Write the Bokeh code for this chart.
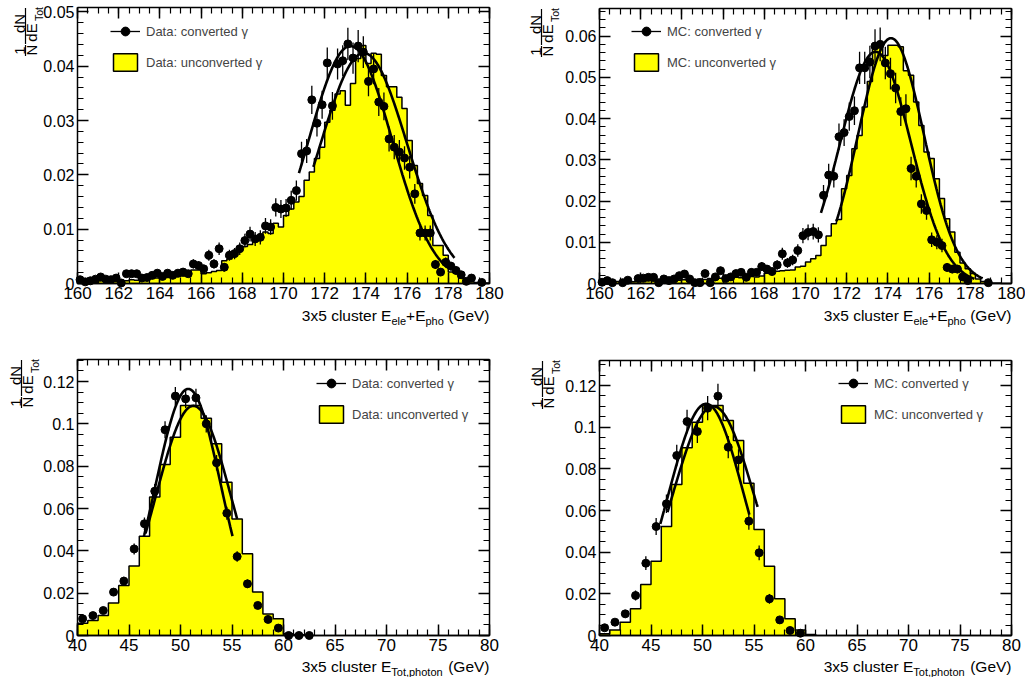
import numpy as np
from bokeh.plotting import figure
from bokeh.layouts import gridplot
from bokeh.models import (Range1d, LinearAxis, SingleIntervalTicker, PrintfTickFormatter,
                          CustomJSTickFormatter, Label, Legend, LegendItem, BoxAnnotation)
from bokeh.embed import file_html
from bokeh.resources import INLINE

FONT = "Liberation Sans"

# ---------------- data ----------------
# top row: 3x5 cluster E_ele+E_pho, 80 bins of 0.25 GeV from 160 GeV
top_lo, top_bw = 160.0, 0.25
# bottom row: 3x5 cluster E_Tot,photon, 40 bins of 1 GeV from 40 GeV
bot_lo, bot_bw = 40.0, 1.0

data_conv_total = [
    0.0007, 0.0003, 0.0005, 0.0008, 0.0012, 0.0008, 0.0007, 0.0010, 0.0001, 0.0018,
    0.0018, 0.0018, 0.0010, 0.0011, 0.0015, 0.0019, 0.0013, 0.0019, 0.0015, 0.0019,
    0.0021, 0.0018, 0.0036, 0.0033, 0.0027, 0.0052, 0.0036, 0.0064, 0.0030, 0.0052,
    0.0055, 0.0064, 0.0079, 0.0091, 0.0082, 0.0085, 0.0106, 0.0104, 0.0140, 0.0137,
    0.0139, 0.0153, 0.0171, 0.0239, 0.0244, 0.0338, 0.0295, 0.0329, 0.0406, 0.0327,
    0.0404, 0.0410, 0.0441, 0.0415, 0.0437, 0.0426, 0.0372, 0.0395, 0.0334, 0.0326,
    0.0266, 0.0251, 0.0242, 0.0231, 0.0214, 0.0165, 0.0093, 0.0093, 0.0093, 0.0035,
    0.0021, 0.0039, 0.0032, 0.0024, 0.0016, 0.0004, 0.0010, None, 0.0002, None]
data_unconv_total = [
    0.0003, 0.0004, 0.0003, 0.0005, 0.0005, 0.0004, 0.0006, 0.0005, 0.0006, 0.0005,
    0.0007, 0.0006, 0.0008, 0.0007, 0.0009, 0.0010, 0.0009, 0.0011, 0.0012, 0.0013,
    0.0014, 0.0016, 0.0025, 0.0025, 0.0018, 0.0020, 0.0022, 0.0024, 0.0042, 0.0045,
    0.0052, 0.0061, 0.0068, 0.0072, 0.0080, 0.0085, 0.0095, 0.0092, 0.0111, 0.0104,
    0.0125, 0.0137, 0.0150, 0.0160, 0.0190, 0.0205, 0.0230, 0.0251, 0.0297, 0.0319,
    0.0349, 0.0355, 0.0328, 0.0368, 0.0414, 0.0438, 0.0405, 0.0424, 0.0422, 0.0383,
    0.0362, 0.0362, 0.0343, 0.0322, 0.0263, 0.0217, 0.0184, 0.0162, 0.0125, 0.0070,
    0.0070, 0.0052, 0.0021, 0.0019, 0.0010, 0.0007, 0.0003, 0.0002, 0.0001, 0.0001]
mc_conv_total = [
    0.0003, 0.0007, 0.0002, None, 0.0002, 0.0008, None, 0.0012, 0.0013, 0.0015,
    0.0015, 0.0002, 0.0011, 0.0007, 0.0011, 0.0019, 0.0023, 0.0011, 0.0002, 0.0002,
    0.0024, 0.0002, 0.0016, 0.0031, 0.0012, 0.0016, 0.0024, 0.0027, 0.0015, 0.0027,
    0.0027, 0.0041, 0.0035, 0.0029, 0.0045, 0.0072, 0.0050, 0.0057, 0.0080, 0.0116,
    0.0124, 0.0126, 0.0118, 0.0214, 0.0263, 0.0260, 0.0356, 0.0366, 0.0405, 0.0419,
    0.0523, 0.0523, 0.0537, 0.0576, 0.0580, 0.0535, 0.0509, 0.0474, 0.0417, 0.0424,
    0.0279, 0.0260, 0.0193, 0.0177, 0.0106, 0.0100, 0.0092, 0.0039, 0.0035, 0.0035,
    0.0016, 0.0007, None, None, None, 0.0002, None, None, None, None]
mc_unconv_total = [
    0.0003, 0.0004, 0.0003, 0.0005, 0.0004, 0.0005, 0.0004, 0.0006, 0.0005, 0.0007,
    0.0006, 0.0007, 0.0008, 0.0007, 0.0009, 0.0008, 0.0009, 0.0010, 0.0009, 0.0011,
    0.0010, 0.0012, 0.0011, 0.0013, 0.0012, 0.0014, 0.0015, 0.0014, 0.0016, 0.0017,
    0.0016, 0.0018, 0.0025, 0.0026, 0.0030, 0.0031, 0.0032, 0.0033, 0.0040, 0.0042,
    0.0052, 0.0060, 0.0068, 0.0092, 0.0115, 0.0145, 0.0155, 0.0230, 0.0262, 0.0327,
    0.0359, 0.0428, 0.0490, 0.0574, 0.0574, 0.0553, 0.0578, 0.0578, 0.0574, 0.0516,
    0.0505, 0.0440, 0.0383, 0.0319, 0.0303, 0.0254, 0.0206, 0.0157, 0.0125, 0.0076,
    0.0050, 0.0036, 0.0024, 0.0011, 0.0005, 0.0002, 0.0001, 0.0001, 0.0, 0.0]

data_conv_photon = [
    0.0079, 0.0094, 0.0118, 0.0205, 0.0257, 0.0409, 0.0528, 0.0682, 0.0972, 0.1131,
    0.1118, 0.1123, 0.1000, 0.0816, 0.0578, 0.0373, 0.0244, 0.0142, 0.0076, 0.0035,
    0.0, 0.0, 0.0, None, None, None, None, None, None, None,
    None, None, None, None, None, None, None, None, None, None]
data_unconv_photon = [
    0.0058, 0.0071, 0.0094, 0.0153, 0.0236, 0.0328, 0.0469, 0.0654, 0.0808, 0.0937,
    0.1087, 0.1087, 0.1027, 0.0906, 0.0724, 0.0551, 0.0386, 0.0205, 0.0102, 0.0079,
    0.0008, 0.0003, 0.0, 0.0, 0.0, 0.0, 0.0, 0.0, 0.0, 0.0,
    0.0, 0.0, 0.0, 0.0, 0.0, 0.0, 0.0, 0.0, 0.0, 0.0]
mc_conv_photon = [
    0.0037, 0.0064, 0.0104, 0.0192, 0.0347, 0.0523, 0.0632, 0.0864, 0.1027, 0.0979,
    0.1091, 0.1149, 0.0904, 0.0843, 0.0549, 0.0397, 0.0176, 0.0075, 0.0024, 0.0011,
    None, None, None, None, None, None, None, None, None, None,
    None, None, None, None, None, None, None, None, None, None]
mc_unconv_photon = [
    0.0008, 0.0027, 0.0064, 0.0128, 0.0245, 0.0357, 0.0523, 0.0725, 0.0901, 0.1024,
    0.1104, 0.1104, 0.1032, 0.0936, 0.0731, 0.0509, 0.0333, 0.0176, 0.0080, 0.0027,
    0.0005, 0.0, 0.0, 0.0, 0.0, 0.0, 0.0, 0.0, 0.0, 0.0,
    0.0, 0.0, 0.0, 0.0, 0.0, 0.0, 0.0, 0.0, 0.0, 0.0]

# Gaussian fit results: (amplitude, mean, sigma, fit range min, fit range max)
fit_data_conv_total = (0.0437, 173.25, 2.02, 170.75, 177.95)
fit_data_unconv_total = (0.0424, 173.90, 2.10, 171.45, 178.30)
fit_mc_conv_total = (0.0562, 173.40, 1.72, 170.75, 178.20)
fit_mc_unconv_total = (0.0595, 174.15, 1.60, 171.50, 178.60)
fit_data_conv_photon = (0.1165, 50.75, 3.19, 46.45, 55.05)
fit_data_unconv_photon = (0.1085, 51.25, 3.65, 46.60, 55.50)
fit_mc_conv_photon = (0.1112, 50.35, 3.68, 45.90, 54.55)
fit_mc_unconv_photon = (0.1100, 51.05, 4.00, 46.60, 55.35)

# effective entries x bin width of the converted samples (statistical errors)
nw_data_total, nw_mc_total = 5000.0, 3460.0
nw_data_photon, nw_mc_photon = 6100.0, 3200.0

legend_data = ["Data: converted \u03b3", "Data: unconverted \u03b3"]
legend_mc = ["MC: converted \u03b3", "MC: unconverted \u03b3"]
xtitle_total = [("3x5 cluster E", 0), ("ele", 1), ("+E", 0), ("pho", 1), (" (GeV)", 0)]
xtitle_photon = [("3x5 cluster E", 0), ("Tot,photon", 1), (" (GeV)", 0)]

# Arial/Liberation Sans advance widths (1/1000 em)
CW = {" ": 278, "(": 333, ")": 333, "+": 584, ",": 278, "3": 556, "5": 556, "E": 667,
      "G": 778, "T": 611, "V": 667, "c": 500, "e": 556, "h": 556, "l": 222, "n": 556,
      "o": 556, "p": 556, "r": 333, "s": 500, "t": 278, "u": 556, "x": 500}


def twidth(s, size):
    return sum(CW.get(c, 556) for c in s) * size / 1000.0


def style_axis(ax, labels=True, size="16px", standoff=3):
    ax.axis_line_color = "black"
    ax.axis_line_width = 1.5
    ax.major_tick_in = 11
    ax.major_tick_out = 0
    ax.minor_tick_in = 6
    ax.minor_tick_out = 0
    ax.major_tick_line_color = "black"
    ax.minor_tick_line_color = "black"
    ax.major_tick_line_width = 1.5
    ax.minor_tick_line_width = 1.2
    if labels:
        ax.major_label_text_font = FONT
        ax.major_label_text_font_size = size
        ax.major_label_text_color = "black"
        ax.major_label_standoff = standoff
    else:
        ax.formatter = CustomJSTickFormatter(code="return ''")
        ax.major_label_text_font_size = "1px"
        ax.major_label_standoff = 0


def make_panel(w, h, frame, xr, yr, xtick, ytick, lo, bw, hist, pts, nw, fits,
               leg_labels, leg_loc, xtitle, xtitle_base, ynum_x):
    # frame = (left, right, top, bottom) of the plotting box, in figure pixels
    fl, fr, ft, fb = frame
    sx = (xr[1] - xr[0]) / (fr - fl)
    sy = (yr[1] - yr[0]) / (fb - ft)
    xa, xb = xr[0] - fl * sx, xr[1] + (w - fr) * sx
    ya, yb = yr[0] - (h - fb) * sy, yr[1] + ft * sy

    p = figure(width=w, height=h, output_backend="svg", toolbar_location=None,
               x_range=Range1d(xa, xb), y_range=Range1d(ya, yb),
               x_axis_type=None, y_axis_type=None, min_border=0)
    p.background_fill_color = "white"
    p.border_fill_color = "white"
    p.outline_line_color = None

    def px(cx):
        return xa + cx * sx

    def py(cy):
        return yb - cy * sy

    # histogram (unconverted)
    xs, ys = [lo], [0.0]
    for i, v in enumerate(hist):
        xs += [lo + i * bw, lo + (i + 1) * bw]
        ys += [v, v]
    xs.append(lo + len(hist) * bw)
    ys.append(0.0)
    hr = p.patch(xs, ys, fill_color="#ffff00", line_color="black", line_width=1.5)

    # fits
    for (a, m, s, x0, x1) in fits:
        fx = np.linspace(x0, x1, 200)
        p.line(fx, a * np.exp(-0.5 * ((fx - m) / s) ** 2), line_color="black", line_width=2.6)

    # converted points with error bars
    xc, yc = [], []
    for i, v in enumerate(pts):
        if v is None:
            continue
        xc.append(lo + (i + 0.5) * bw)
        yc.append(v)
    xc = np.array(xc)
    yc = np.array(yc)
    e = np.sqrt(yc / nw)
    er = p.segment(xc, yc - e, xc, yc + e, line_color="black", line_width=1.3)
    sr = p.scatter(xc, yc, size=8, marker="circle", fill_color="black", line_color="black")

    # axes (box with ticks on all four sides)
    def xt():
        return SingleIntervalTicker(interval=xtick[0], num_minor_ticks=xtick[1])

    def yt():
        return SingleIntervalTicker(interval=ytick[0], num_minor_ticks=ytick[1])

    ax_b = LinearAxis(ticker=xt(), fixed_location=yr[0], bounds=xr)
    style_axis(ax_b, True, "17px", 3)
    p.add_layout(ax_b, "below")
    ax_l = LinearAxis(ticker=yt(), fixed_location=xr[0], bounds=yr,
                      formatter=PrintfTickFormatter(format="%.6g"))
    style_axis(ax_l, True, "16px", 3)
    p.add_layout(ax_l, "left")
    ax_t = LinearAxis(ticker=xt(), fixed_location=yr[1], bounds=xr)
    style_axis(ax_t, labels=False)
    p.add_layout(ax_t, "above")
    ax_r = LinearAxis(ticker=yt(), fixed_location=xr[1], bounds=yr)
    style_axis(ax_r, labels=False)
    p.add_layout(ax_r, "right")

    # legend
    leg = Legend(items=[LegendItem(label=leg_labels[0], renderers=[er, sr]),
                        LegendItem(label=leg_labels[1], renderers=[hr])],
                 location=leg_loc, padding=0, margin=0, spacing=9,
                 glyph_width=30, glyph_height=22, label_standoff=6,
                 label_text_font=FONT, label_text_font_size="13px",
                 border_line_color=None, background_fill_alpha=0)
    p.add_layout(leg)

    # x title (right aligned to frame edge, with subscripts)
    main_sz, sub_sz = 15.5, 11.0
    total = sum(twidth(t, sub_sz if sub else main_sz) for t, sub in xtitle)
    x = fr - total
    for t, sub in xtitle:
        sz = sub_sz if sub else main_sz
        yy = (xtitle_base + 5.5) if sub else xtitle_base
        stripped = t.lstrip(" ")
        x += twidth(t[:len(t) - len(stripped)], sz)
        p.add_layout(Label(x=px(x), y=py(yy), text=stripped,
                           text_font=FONT, text_font_size=f"{sz}px",
                           text_align="left", text_baseline="alphabetic", text_color="black"))
        x += twidth(stripped, sz)

    # y title: 1/N dN/dE_Tot (rotated)
    nx = ynum_x
    dx = nx + 12

    def ylab(text, cx, t, size):
        p.add_layout(Label(x=px(cx), y=py(ft + t), text=text,
                           angle=np.pi / 2, text_align="center", text_baseline="middle",
                           text_font=FONT, text_font_size=size, text_color="black"))

    ylab("1", nx, 43, "15px")
    ylab("N", dx, 42.5, "15px")
    ylab("dN", nx, 16, "15px")
    ylab("dE", dx, 25, "15px")
    ylab("Tot", dx + 7.5, 6.5, "10.5px")
    bx = nx + 6
    for (t0, t1) in ((37.5, 48.5), (0.5, 36.5)):
        p.add_layout(BoxAnnotation(left=px(bx - 0.6), right=px(bx + 0.6),
                                   top=py(ft + t0), bottom=py(ft + t1),
                                   fill_color="black", fill_alpha=1, line_color=None))
    return p


p1 = make_panel(512, 338, (77, 489, 7, 283), (160, 180), (0, 0.0508), (2, 4), (0.01, 5),
                top_lo, top_bw, data_unconv_total, data_conv_total, nw_data_total,
                [fit_data_unconv_total, fit_data_conv_total], legend_data, (110, 265),
                xtitle_total, 315, 19)
p2 = make_panel(513, 338, (87, 499, 8, 283), (160, 180), (0, 0.0667), (2, 4), (0.01, 5),
                top_lo, top_bw, mc_unconv_total, mc_conv_total, nw_mc_total,
                [fit_mc_unconv_total, fit_mc_conv_total], legend_mc, (119, 265),
                xtitle_total, 315, 23)
p3 = make_panel(512, 339, (77, 489, 21, 297), (40, 80), (0, 0.1304), (5, 5), (0.02, 4),
                bot_lo, bot_bw, data_unconv_photon, data_conv_photon, nw_data_photon,
                [fit_data_unconv_photon, fit_data_conv_photon], legend_data, (316, 252),
                xtitle_photon, 328, 15)
p4 = make_panel(513, 339, (87, 499, 22, 297), (40, 80), (0, 0.132), (5, 5), (0.02, 4),
                bot_lo, bot_bw, mc_unconv_photon, mc_conv_photon, nw_mc_photon,
                [fit_mc_unconv_photon, fit_mc_conv_photon], legend_mc, (326, 252),
                xtitle_photon, 328, 24)

grid = gridplot([[p1, p2], [p3, p4]], toolbar_location=None)

with open("out.html", "w") as f:
    f.write(file_html(grid, INLINE))
